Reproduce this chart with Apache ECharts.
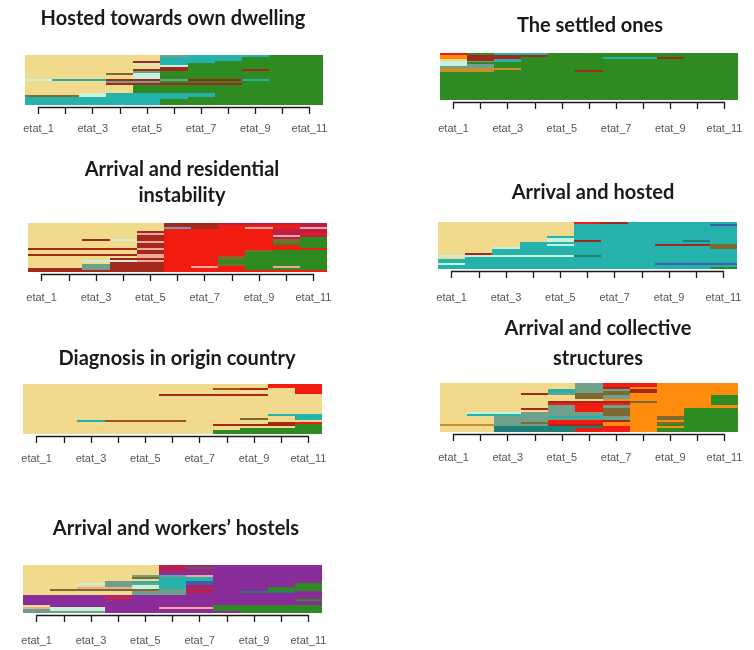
<!DOCTYPE html>
<html><head><meta charset="utf-8">
<script src="https://cdn.jsdelivr.net/npm/echarts@6/dist/echarts.min.js"></script>
<style>html,body{margin:0;padding:0;background:#fff}#c{width:754px;height:650px}</style>
</head><body><div id="c"></div>
<script>
// ---- tick labels (11 positions) ----
const stateLabels = ['etat_1','etat_2','etat_3','etat_4','etat_5','etat_6','etat_7','etat_8','etat_9','etat_10','etat_11'];

// ---- state alphabet used in the sequences ----
const stateCodes = ['Y','G','T','R','D','O','P','L','S','K','B','M','N','V','E','H','A'];

// ---- panel titles ----
const panelTitles = [
  'Hosted towards own dwelling',
  'The settled ones',
  'Arrival and residential\ninstability',
  'Arrival and hosted',
  'Diagnosis in origin country',
  'Arrival and collective\nstructures',
  'Arrival and workers\u2019 hostels'
];

// ---- sequences: one string per individual, one letter per state etat_1..etat_11 ----
const hostedOwn = [
  'YYYYYSTTTGG','YYYYYTTTGGG','YYYYYTTTGGG','YYYYDTTGGGG','YYYYLTGGGGG',
  'YYYYYLGGGGG','YYYYYDGGGGG','YYYYDDGGDGG','YYYYSGGGGGG','YYYKLGGGGGG',
  'YYYYLGGGGGG','YYYYLGGGGGG','LTTDDSDDTGG','YYYSSGGGGGG','YYYDDDDDGGG',
  'YYYYGGGGGGG','YYYYGGGGGGG','YYYYGGGGGGG','YYYYGGGGGGG','YYLTTTTGGGG',
  'KKLTTTTGGGG','TTTTTTGGGGG','TTTTTGGGGGG','TTTTTGGGGGG','TTTTTGGGGGG'
];
const settledOnes = [
  'RGTTGGGGGGG','ODDDGGGGGGG','ODDGGGTTDGG','YDTGGGGGGGG','LSTGGGGGGGG',
  'LGGGGGGGGGG','LSGGGGGGGGG','SSGGGGGGGGG','AAAGGGGGGGG','AAGGGDGGGGG',
  'GGGGGGGGGGG','GGGGGGGGGGG','GGGGGGGGGGG','GGGGGGGGGGG','GGGGGGGGGGG',
  'GGGGGGGGGGG','GGGGGGGGGGG','GGGGGGGGGGG','GGGGGGGGGGG','GGGGGGGGGGG',
  'GGGGGGGGGGG','GGGGGGGGGGG','GGGGGGGGGGG','GGGGGGGGGGG','GGGGGGGGGGG'
];
const residentialInstability = [
  'YYYYYDDMMMM','YYYYYDDRRRM','YYYYYVDRNRN','YYYYYRRRRMM','YYYYDRRRRMM',
  'YYYYNRRRRMR','YYYYDRRRRNM','YYYYDRRRRMG','YYDLDRRRRKG','YYYYNRRRRKG',
  'YYYYDRRRRGG','YYYYDRRRRRG','DDDDNRRRRRR','YYYYDRRRKGG','YYYYDRRRGGG',
  'DDDDNRRRGGG','YYYYNRRKGGG','YYYDDRRKGGG','YYLLNRRGGGG','YYYDDRRGGGG',
  'YYSDDRRKGGG','YYSDDRNRGNG','DDSDDRRRGGG','DDDDDRRRRRR'
];
const arrivalHosted = [
  'YYYYYRDTTTT','YYYYYTTTTTB','YYYYYTTTTTT','YYYYYTTTTTT','YYYYYTTTTTT',
  'YYYYYTTTTTT','YYYYYTTTTTT','YYYYTTTTTTT','YYYYLTTTTTT','YYYYLDTTTET',
  'YYYTTTTTTTT','YYYTLTTTDDK','YYYTTTTTTTK','YYLTTTTTTTK','YYTTTTTTTTT',
  'YYTTTTTTTTT','YDTTTTTTTTT','LLLLLETTTTT','YTTTTTTTTTT','TTTTTTTTTTT',
  'TTTTTTTTTTT','LTTTTTTTBBB','TTTTTTTTTTT','TTTTTTTTTTG'
];
const diagnosisOrigin = [
  'YYYYYYYYYRR','YYYYYYYYYRR','YYYYYYYHDYR','YYYYYYYYYYR','YYYYYYYYYYR',
  'YYYYYDDDDYY','YYYYYYYYYYY','YYYYYYYYYYY','YYYYYYYYYYY','YYYYYYYYYYY',
  'YYYYYYYYYYY','YYYYYYYYYYY','YYYYYYYYYYY','YYYYYYYYYYY','YYYYYYYYYYY',
  'YYYYYYYYYTT','YYYYYYYYYYT','YYYYYYYYKYT','YYTHHHYYYYY','YYYYYYYYYDR',
  'YYYYYYYDDDG','YYYYYYYYYYG','YYYYYYYYGGG','YYYYYYYGGGG','YYYYYYYGGGG'
];
const collectiveStructures = [
  'YYYYYSRROOO','YYYYYSRROOO','YYYYYSDOOOO','YYYYTSSDOOO','YYYYTSKDOOO',
  'YYYDSKKOOOO','YYYYYKSOOOG','YYYYYKSOOOG','YYYYYYOOOOG','YYYYDDDKOOG',
  'YYYYRRROOOG','YYYYSRSOOOO','YYYDSRKOOGG','YYYYSRKOOGG','YLLSSSKOOGG',
  'YTTSSSKOOGG','YYSSTTSOKGG','YYSSSSSOKGG','YYSSRRDOOGG','YYSKRROOKGG',
  'AASSDDOOGGG','YYEEEEROOGG','YYEEERROGGG','YYEEERROGGG'
];
const workersHostels = [
  'YYYYYMMPPPP','YYYYYMBPPPP','YYYYYMMPPPP','YYYYYPPPPPP','YYYYYPPPPPP',
  'YYYYSSNPPPP','YYYYKTTPPPP','YYYYYTTPPPP','YYYSTTBPPPP','YYLSSTBPPPG',
  'YYYSLTMPPPG','YYNNLTPPPGG','YKKKKSMPPGG','YYYYSSMPEEP','YYYYSSPPPPP',
  'PPPPPPPPPPP','PPPRPPPPPPP','PPPPPPPPPPG','PPPPPPPPPPP','PPPPPPPPPPP',
  'YPPPPPPGGGG','NLLPPNNGGGG','SLLPPPPGGGG','SSSPPPPPGGG'
];

// ---- styles ----
const stateColors = {
  Y:'#F2DA8C', G:'#2E8B22', T:'#25B2AC', R:'#F21B10', D:'#A3291C', O:'#FF8C0C',
  P:'#8A2C9A', L:'#C6F2DC', S:'#6FA08C', K:'#7C6A2E', B:'#3F5FA8', M:'#BC1E4A',
  N:'#F2A79C', V:'#8496B8', E:'#1F7F76', H:'#A0521C', A:'#C8902A'
};

const panelSeqs = [hostedOwn, settledOnes, residentialInstability, arrivalHosted,
                   diagnosisOrigin, collectiveStructures, workersHostels];
// layout: plot box [left, top, width, height], first title line centre [x, y], line height, axis gap, label margin
const layout = [
  {box:[25,55,298,50],   t:[168,18],  lh:26, gap:2, lm:16},
  {box:[440,53,298,47],  t:[585,25],  lh:26, gap:2, lm:21},
  {box:[28,223,299,49],  t:[177,169], lh:26, gap:2, lm:18},
  {box:[438,222,299,47], t:[588,192], lh:26, gap:2, lm:21},
  {box:[23,384,299,50],  t:[172,358], lh:26, gap:2, lm:17},
  {box:[440,383,298,49], t:[593,328], lh:30, gap:2, lm:18},
  {box:[23,565,299,48],  t:[171,528], lh:26, gap:2, lm:20}
];

const grid = [], xAxis = [], yAxis = [], series = [], title = [];
panelSeqs.forEach((rows, i) => {
  const L = layout[i], [left, top, w, h] = L.box;
  const nCol = stateLabels.length;
  grid.push({left, top, width: w, height: h});
  grid.push({left: left + w / nCol / 2, top: top + h + L.gap - 1, width: w - w / nCol, height: 1});
  const g0 = 2 * i, g1 = 2 * i + 1;
  xAxis.push({gridIndex: g0, type: 'value', min: 0.5, max: nCol + 0.5, show: false});
  yAxis.push({gridIndex: g0, type: 'category', data: rows.map((_, r) => 'ind' + (r + 1)), inverse: true, show: false});
  xAxis.push({gridIndex: g1, type: 'value', min: 1, max: nCol, interval: 1, position: 'bottom',
    axisLine: {show: true, onZero: false, lineStyle: {color: '#1a1a1a', width: 1.3}},
    axisTick: {show: true, inside: false, length: 7, lineStyle: {color: '#1a1a1a', width: 1.3}},
    axisLabel: {show: true, margin: L.lm, fontSize: 11, color: '#555', fontFamily: 'Liberation Sans, Arial, sans-serif',
      formatter: v => (Math.round(v) % 2 === 1 ? stateLabels[Math.round(v) - 1] : '')},
    splitLine: {show: false}});
  yAxis.push({gridIndex: g1, type: 'value', show: false});

  // merge runs of equal states per individual
  const data = [];
  rows.forEach((seq, r) => {
    let s = 0;
    for (let c = 1; c <= seq.length; c++) {
      if (c === seq.length || seq[c] !== seq[s]) {
        data.push([s + 1, c, r, stateCodes.indexOf(seq[s])]);
        s = c;
      }
    }
  });
  series.push({
    type: 'custom', xAxisIndex: g0, yAxisIndex: g0, silent: true,
    encode: {x: [0, 1], y: 2},
    data,
    renderItem: (params, api) => {
      const s = api.value(0), e = api.value(1), r = api.value(2), k = api.value(3);
      const p0 = api.coord([s - 0.5, r]);
      const p1 = api.coord([e + 0.5, r]);
      const rh = api.size([0, 1])[1];
      const x0 = Math.round(p0[0]), x1 = Math.round(p1[0]);
      const y0 = Math.round(p0[1] - rh / 2), y1 = Math.round(p0[1] + rh / 2);
      return {type: 'rect',
        shape: {x: x0, y: y0, width: x1 - x0, height: Math.max(1, y1 - y0)},
        style: {fill: stateColors[stateCodes[k]], lineWidth: 0}};
    }
  });
  title.push({text: panelTitles[i], left: L.t[0], top: L.t[1] - L.lh / 2 - 4, textAlign: 'center',
    textStyle: {fontFamily: 'Lato, sans-serif', fontWeight: 'bold', fontSize: 20, color: '#1a1a1a', lineHeight: L.lh}});
});

const chart = echarts.init(document.getElementById('c'), null, {renderer: 'canvas'});
chart.setOption({animation: false, backgroundColor: '#fff', title, grid, xAxis, yAxis, series});
</script>
</body></html>
